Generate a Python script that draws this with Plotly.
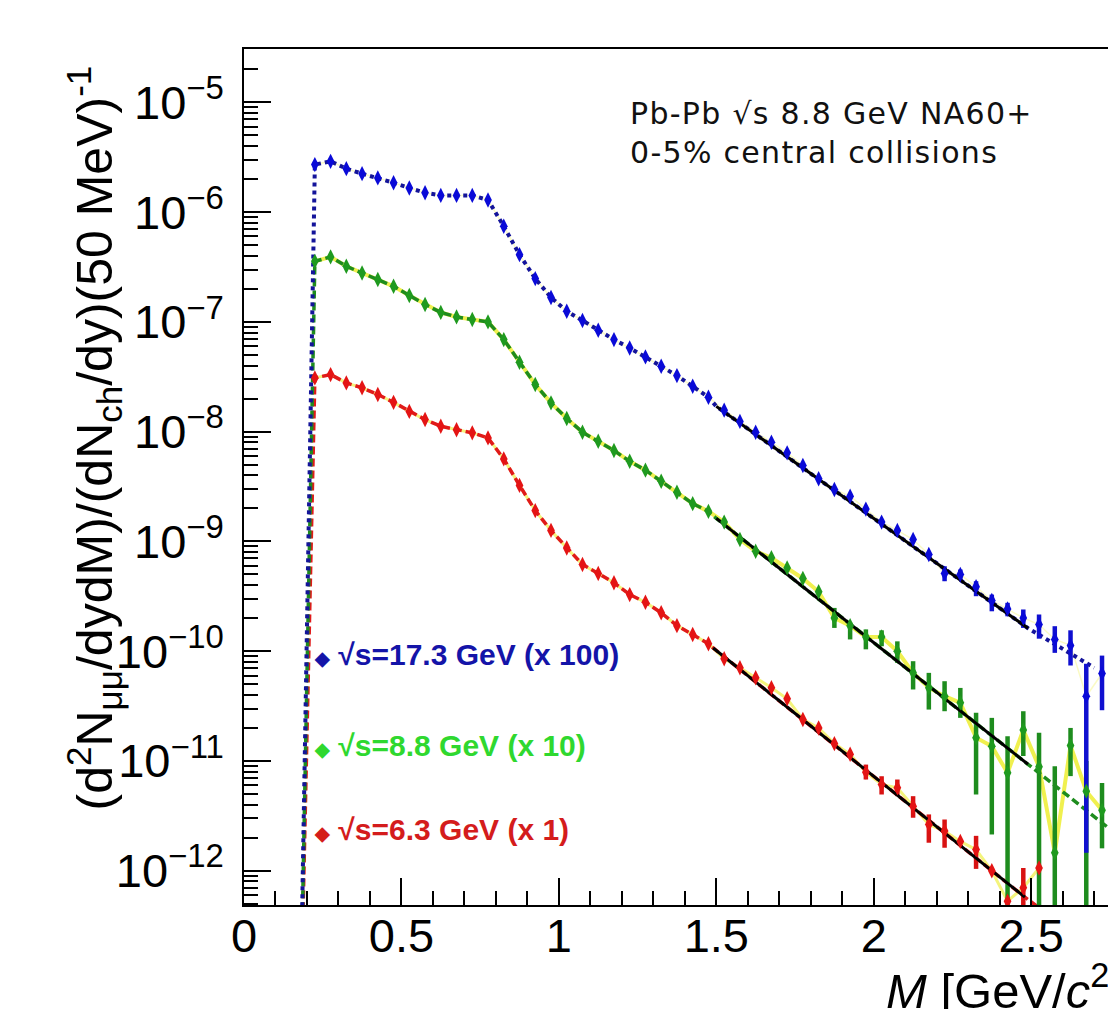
import plotly.graph_objects as go

# ---------------- data ----------------
mass = [0.175, 0.225, 0.275, 0.325, 0.375, 0.425, 0.475, 0.525, 0.575, 0.625,
        0.675, 0.725, 0.775, 0.825, 0.875, 0.925, 0.975, 1.025, 1.075, 1.125,
        1.175, 1.225, 1.275, 1.325, 1.375, 1.425, 1.475, 1.525, 1.575, 1.625,
        1.675, 1.725, 1.775, 1.825, 1.875, 1.925, 1.975, 2.025, 2.075, 2.125,
        2.175, 2.225, 2.275, 2.325, 2.375, 2.425, 2.475, 2.525, 2.575, 2.625,
        2.675, 2.725]

y_173 = [1e-14, 2.71e-6, 2.90e-6, 2.49e-6, 2.24e-6, 2.05e-6, 1.85e-6, 1.66e-6, 1.50e-6, 1.42e-6,
         1.42e-6, 1.42e-6, 1.29e-6, 7.43e-7, 4.10e-7, 2.48e-7, 1.67e-7, 1.25e-7, 1.03e-7, 8.38e-8,
         6.90e-8, 5.79e-8, 4.80e-8, 3.94e-8, 3.24e-8, 2.59e-8, 2.06e-8, 1.57e-8, 1.24e-8, 9.89e-9,
         8.00e-9, 6.41e-9, 4.91e-9, 3.72e-9, 2.97e-9, 2.58e-9, 1.97e-9, 1.50e-9, 1.26e-9, 1.04e-9,
         7.60e-10, 5.11e-10, 5.00e-10, 3.86e-10, 2.90e-10, 2.43e-10, 2.01e-10, 1.75e-10, 1.28e-10, 1.13e-10,
         3.89e-11, 6.27e-11]

y_88 = [1e-14, 3.56e-7, 3.91e-7, 3.21e-7, 2.79e-7, 2.43e-7, 2.11e-7, 1.74e-7, 1.44e-7, 1.22e-7,
        1.11e-7, 1.05e-7, 1.00e-7, 6.90e-8, 4.29e-8, 2.69e-8, 1.83e-8, 1.32e-8, 9.89e-9, 8.18e-9,
        6.73e-9, 5.37e-9, 4.46e-9, 3.53e-9, 2.81e-9, 2.21e-9, 1.88e-9, 1.50e-9, 1.04e-9, 8.15e-10,
        7.10e-10, 5.74e-10, 4.60e-10, 3.48e-10, 2.01e-10, 1.71e-10, 1.35e-10, 1.35e-10, 1.00e-10, 6.35e-11,
        4.65e-11, 3.89e-11, 3.39e-11, 1.63e-11, 1.36e-11, 7.80e-12, 1.92e-11, 8.85e-12, 1.46e-12, 1.38e-11,
        5.31e-12, 3.55e-12]

y_63 = [1e-14, 3.09e-8, 3.31e-8, 2.78e-8, 2.51e-8, 2.18e-8, 1.85e-8, 1.53e-8, 1.29e-8, 1.12e-8,
        1.04e-8, 9.75e-9, 8.77e-9, 5.65e-9, 3.24e-9, 1.91e-9, 1.26e-9, 8.71e-10, 6.17e-10, 5.11e-10,
        4.20e-10, 3.28e-10, 2.79e-10, 2.24e-10, 1.71e-10, 1.42e-10, 1.17e-10, 8.53e-11, 7.06e-11, 5.73e-11,
        4.65e-11, 3.69e-11, 2.39e-11, 2.00e-11, 1.44e-11, 1.15e-11, 7.91e-12, 6.11e-12, 5.70e-12, 3.87e-12,
        2.64e-12, 2.30e-12, 1.85e-12, 1.56e-12, 1.00e-12, 5.28e-13, 7.00e-13, 1.06e-12, None, None,
        None, None]

# vertical error bars (upper / lower edges)
err_173_x = [2.225, 2.275, 2.325, 2.375, 2.425, 2.475, 2.525, 2.575, 2.625, 2.675, 2.725]
err_173_hi = [5.94e-10, 5.55e-10, 4.34e-10, 3.28e-10, 2.76e-10, 2.40e-10, 2.16e-10, 1.69e-10, 1.55e-10, 7.67e-11, 9.12e-11]
err_173_lo = [4.34e-10, 4.50e-10, 3.17e-10, 2.31e-10, 2.08e-10, 1.63e-10, 1.30e-10, 9.66e-11, 7.41e-11, 1.46e-12, 2.90e-11]

err_88_x = [1.875, 1.925, 1.975, 2.025, 2.075, 2.125, 2.175, 2.225, 2.275, 2.325, 2.375, 2.425,
            2.475, 2.525, 2.575, 2.625, 2.675, 2.725]
err_88_hi = [2.48e-10, 1.82e-10, 1.58e-10, 1.55e-10, 1.23e-10, 8.11e-11, 6.35e-11, 5.33e-11, 4.63e-11,
             2.75e-11, 2.47e-11, 1.68e-11, 2.84e-11, 1.81e-11, 8.97e-12, 2.00e-11, 1.0e-11, 6.3e-12]
err_88_lo = [1.63e-10, 1.28e-10, 1.04e-10, 1.11e-10, 7.83e-11, 4.48e-11, 2.94e-11, 2.84e-11, 2.47e-11,
             4.95e-12, 2.14e-12, 1e-14, 1.11e-11, 1e-14, 1e-14, 7.28e-12, 1e-14, 1.6e-12]

err_63_x = [1.975, 2.025, 2.075, 2.125, 2.175, 2.225, 2.325, 2.475]
err_63_hi = [9.27e-12, 7.26e-12, 6.78e-12, 4.78e-12, 3.26e-12, 2.93e-12, 2.08e-12, 1.06e-12]
err_63_lo = [6.78e-12, 4.95e-12, 4.78e-12, 3.04e-12, 1.80e-12, 1.62e-12, 1.04e-12, 1e-14]

# exponential fits (solid black within 1.5-2.5, dashed colour extrapolation)
fit_173_x = [1.50, 2.49, 2.70]
fit_173_y = [1.70e-8, 1.62e-10, 7.08e-11]
fit_88_x = [1.50, 2.49, 2.75]
fit_88_y = [1.62e-9, 9.33e-12, 2.40e-12]
fit_63_x = [1.49, 2.48, 2.75]
fit_63_y = [1.07e-10, 5.75e-13, 1.5e-13]

x_ticks = [0, 0.5, 1, 1.5, 2, 2.5]
x_ticktext = ["0", "0.5", "1", "1.5", "2", "2.5"]
x_minor = [0.1, 0.2, 0.3, 0.4, 0.6, 0.7, 0.8, 0.9, 1.1, 1.2, 1.3, 1.4, 1.6, 1.7, 1.8,
           1.9, 2.1, 2.2, 2.3, 2.4, 2.6, 2.7]
y_exps = [-12, -11, -10, -9, -8, -7, -6, -5]
y_ticks = [10.0 ** e for e in y_exps]
y_ticktext = ["10<sup>\u2212%d</sup>" % (-e) for e in y_exps]
y_minor = [m * 10.0 ** e for e in range(-13, -4) for m in range(2, 10)]

series = [
    dict(name="17.3", y=y_173, ex=err_173_x, eh=err_173_hi, el=err_173_lo, fx=fit_173_x, fy=fit_173_y,
         mcol="#0a0ad8", lcol="#14149a", ecol="#1010d0", dash="4px,4px", lw=4,
         ycol="rgba(240,240,90,0.35)", yw=1.5),
    dict(name="8.8", y=y_88, ex=err_88_x, eh=err_88_hi, el=err_88_lo, fx=fit_88_x, fy=fit_88_y,
         mcol="#1f9a1f", lcol="#1e8c1e", ecol="#1e8c1e", dash="8px,4px", lw=3.5,
         ycol="rgba(238,238,60,0.9)", yw=4),
    dict(name="6.3", y=y_63, ex=err_63_x, eh=err_63_hi, el=err_63_lo, fx=fit_63_x, fy=fit_63_y,
         mcol="#e41414", lcol="#e01a1a", ecol="#d81212", dash="8px,4px", lw=3.5,
         ycol="rgba(240,240,80,0.75)", yw=3),
]

fig = go.Figure()

# yellow model lines underneath
for s in series:
    xs = [x for x, v in zip(mass, s["y"]) if v is not None and x > 0.2]
    ys = [v for x, v in zip(mass, s["y"]) if v is not None and x > 0.2]
    fig.add_trace(go.Scatter(x=xs, y=ys, mode="lines",
                             line=dict(color=s["ycol"], width=s["yw"]), hoverinfo="skip"))

# dashed/dotted connecting lines (data below 1.5, fit extrapolation above)
for s in reversed(series):
    lx = [x for x, v in zip(mass, s["y"]) if v is not None and x < 1.49]
    ly = [v for x, v in zip(mass, s["y"]) if v is not None and x < 1.49]
    lx += s["fx"]
    ly += s["fy"]
    fig.add_trace(go.Scatter(x=lx, y=ly, mode="lines",
                             line=dict(color=s["lcol"], width=s["lw"], dash=s["dash"]),
                             hoverinfo="skip"))

# error bars
for s in reversed(series):
    yc = [s["y"][mass.index(x)] for x in s["ex"]]
    up = [h - c for h, c in zip(s["eh"], yc)]
    dn = [c - l for l, c in zip(s["el"], yc)]
    fig.add_trace(go.Scatter(x=s["ex"], y=yc, mode="markers", marker=dict(size=1, color=s["ecol"], opacity=0),
                             error_y=dict(type="data", array=up, arrayminus=dn, symmetric=False,
                                          color=s["ecol"], thickness=4.5, width=0),
                             hoverinfo="skip"))

# black fit lines
for s in series:
    fig.add_trace(go.Scatter(x=s["fx"][:2], y=s["fy"][:2], mode="lines",
                             line=dict(color="black", width=3), hoverinfo="skip"))

# markers
for s in reversed(series):
    xs = [x for x, v in zip(mass, s["y"]) if v is not None]
    ys = [v for v in s["y"] if v is not None]
    fig.add_trace(go.Scatter(x=xs, y=ys, mode="markers",
                             marker=dict(symbol="diamond-tall", size=11, color=s["mcol"]),
                             hoverinfo="skip"))

X0, X1 = 243.5, 1108.0
Y0, Y1 = 905.0, 49.3


def px(xp):
    return (xp - X0) / (X1 - X0)


def py(yp):
    return (Y0 - yp) / (Y0 - Y1)


diamond = "<span style='font-size:19px'>\u25c6</span>"
annotations = [
    dict(x=px(628), y=py(94), xanchor="left", yanchor="top", align="left",
         text="<span style='letter-spacing:1.3px'>Pb-Pb \u221as 8.8 GeV NA60+</span><br>"
              "<span style='letter-spacing:1.3px'>0-5% central collisions</span>",
         font=dict(family="DejaVu Sans", size=30, color="#111111")),
    dict(x=px(312), y=py(655), xanchor="left", yanchor="middle",
         text=diamond + " \u221as=17.3 GeV (x 100)",
         font=dict(family="Liberation Sans", size=30, color="#1414a8", weight="bold")),
    dict(x=px(312), y=py(746), xanchor="left", yanchor="middle",
         text=diamond + " \u221as=8.8 GeV (x 10)",
         font=dict(family="Liberation Sans", size=30, color="#2fd82f", weight="bold")),
    dict(x=px(312), y=py(830), xanchor="left", yanchor="middle",
         text=diamond + " \u221as=6.3 GeV (x 1)",
         font=dict(family="Liberation Sans", size=30, color="#d41c1c", weight="bold")),
    dict(x=px(94), y=py(438), xanchor="center", yanchor="middle", textangle=-90,
         text="(d<sup>2</sup>N<sub>\u03bc\u03bc</sub>/dydM)/(dN<sub>ch</sub>/dy)(50 MeV)<sup>-1</sup>",
         font=dict(family="Liberation Sans", size=50, color="black")),
    dict(x=px(884), y=py(954), xanchor="left", yanchor="top",
         text="<i>M</i> [GeV/<i>c</i><sup>2</sup>]",
         font=dict(family="Liberation Sans", size=49, color="black")),
]
for a in annotations:
    a.update(xref="paper", yref="paper", showarrow=False)

axis_font = dict(family="Liberation Sans", size=47, color="black")

fig.update_layout(
    width=1108, height=1009,
    margin=dict(l=243.5, r=0, t=49.3, b=104),
    paper_bgcolor="white", plot_bgcolor="white",
    showlegend=False,
    annotations=annotations,
    xaxis=dict(range=[0, 2.744], tickmode="array", tickvals=x_ticks, ticktext=x_ticktext,
               ticks="inside", ticklen=27, tickwidth=1.5, tickcolor="black",
               showline=True, linecolor="black", linewidth=1.5, mirror=True,
               showgrid=False, zeroline=False, tickfont=axis_font, ticklabelstandoff=-11,
               minor=dict(tickmode="array", tickvals=x_minor, ticks="inside", ticklen=14,
                          tickwidth=1.5, tickcolor="black", showgrid=False)),
    yaxis=dict(type="log", range=[-12.312, -4.514], tickmode="array", tickvals=y_ticks,
               ticktext=y_ticktext, ticks="inside", ticklen=27, tickwidth=1.5, tickcolor="black",
               showline=True, linecolor="black", linewidth=1.5, mirror=False,
               showgrid=False, zeroline=False, tickfont=axis_font, ticklabelstandoff=9,
               minor=dict(tickmode="array", tickvals=y_minor, ticks="inside", ticklen=14,
                          tickwidth=1.5, tickcolor="black", showgrid=False)),
)

fig.write_html("out.html")
